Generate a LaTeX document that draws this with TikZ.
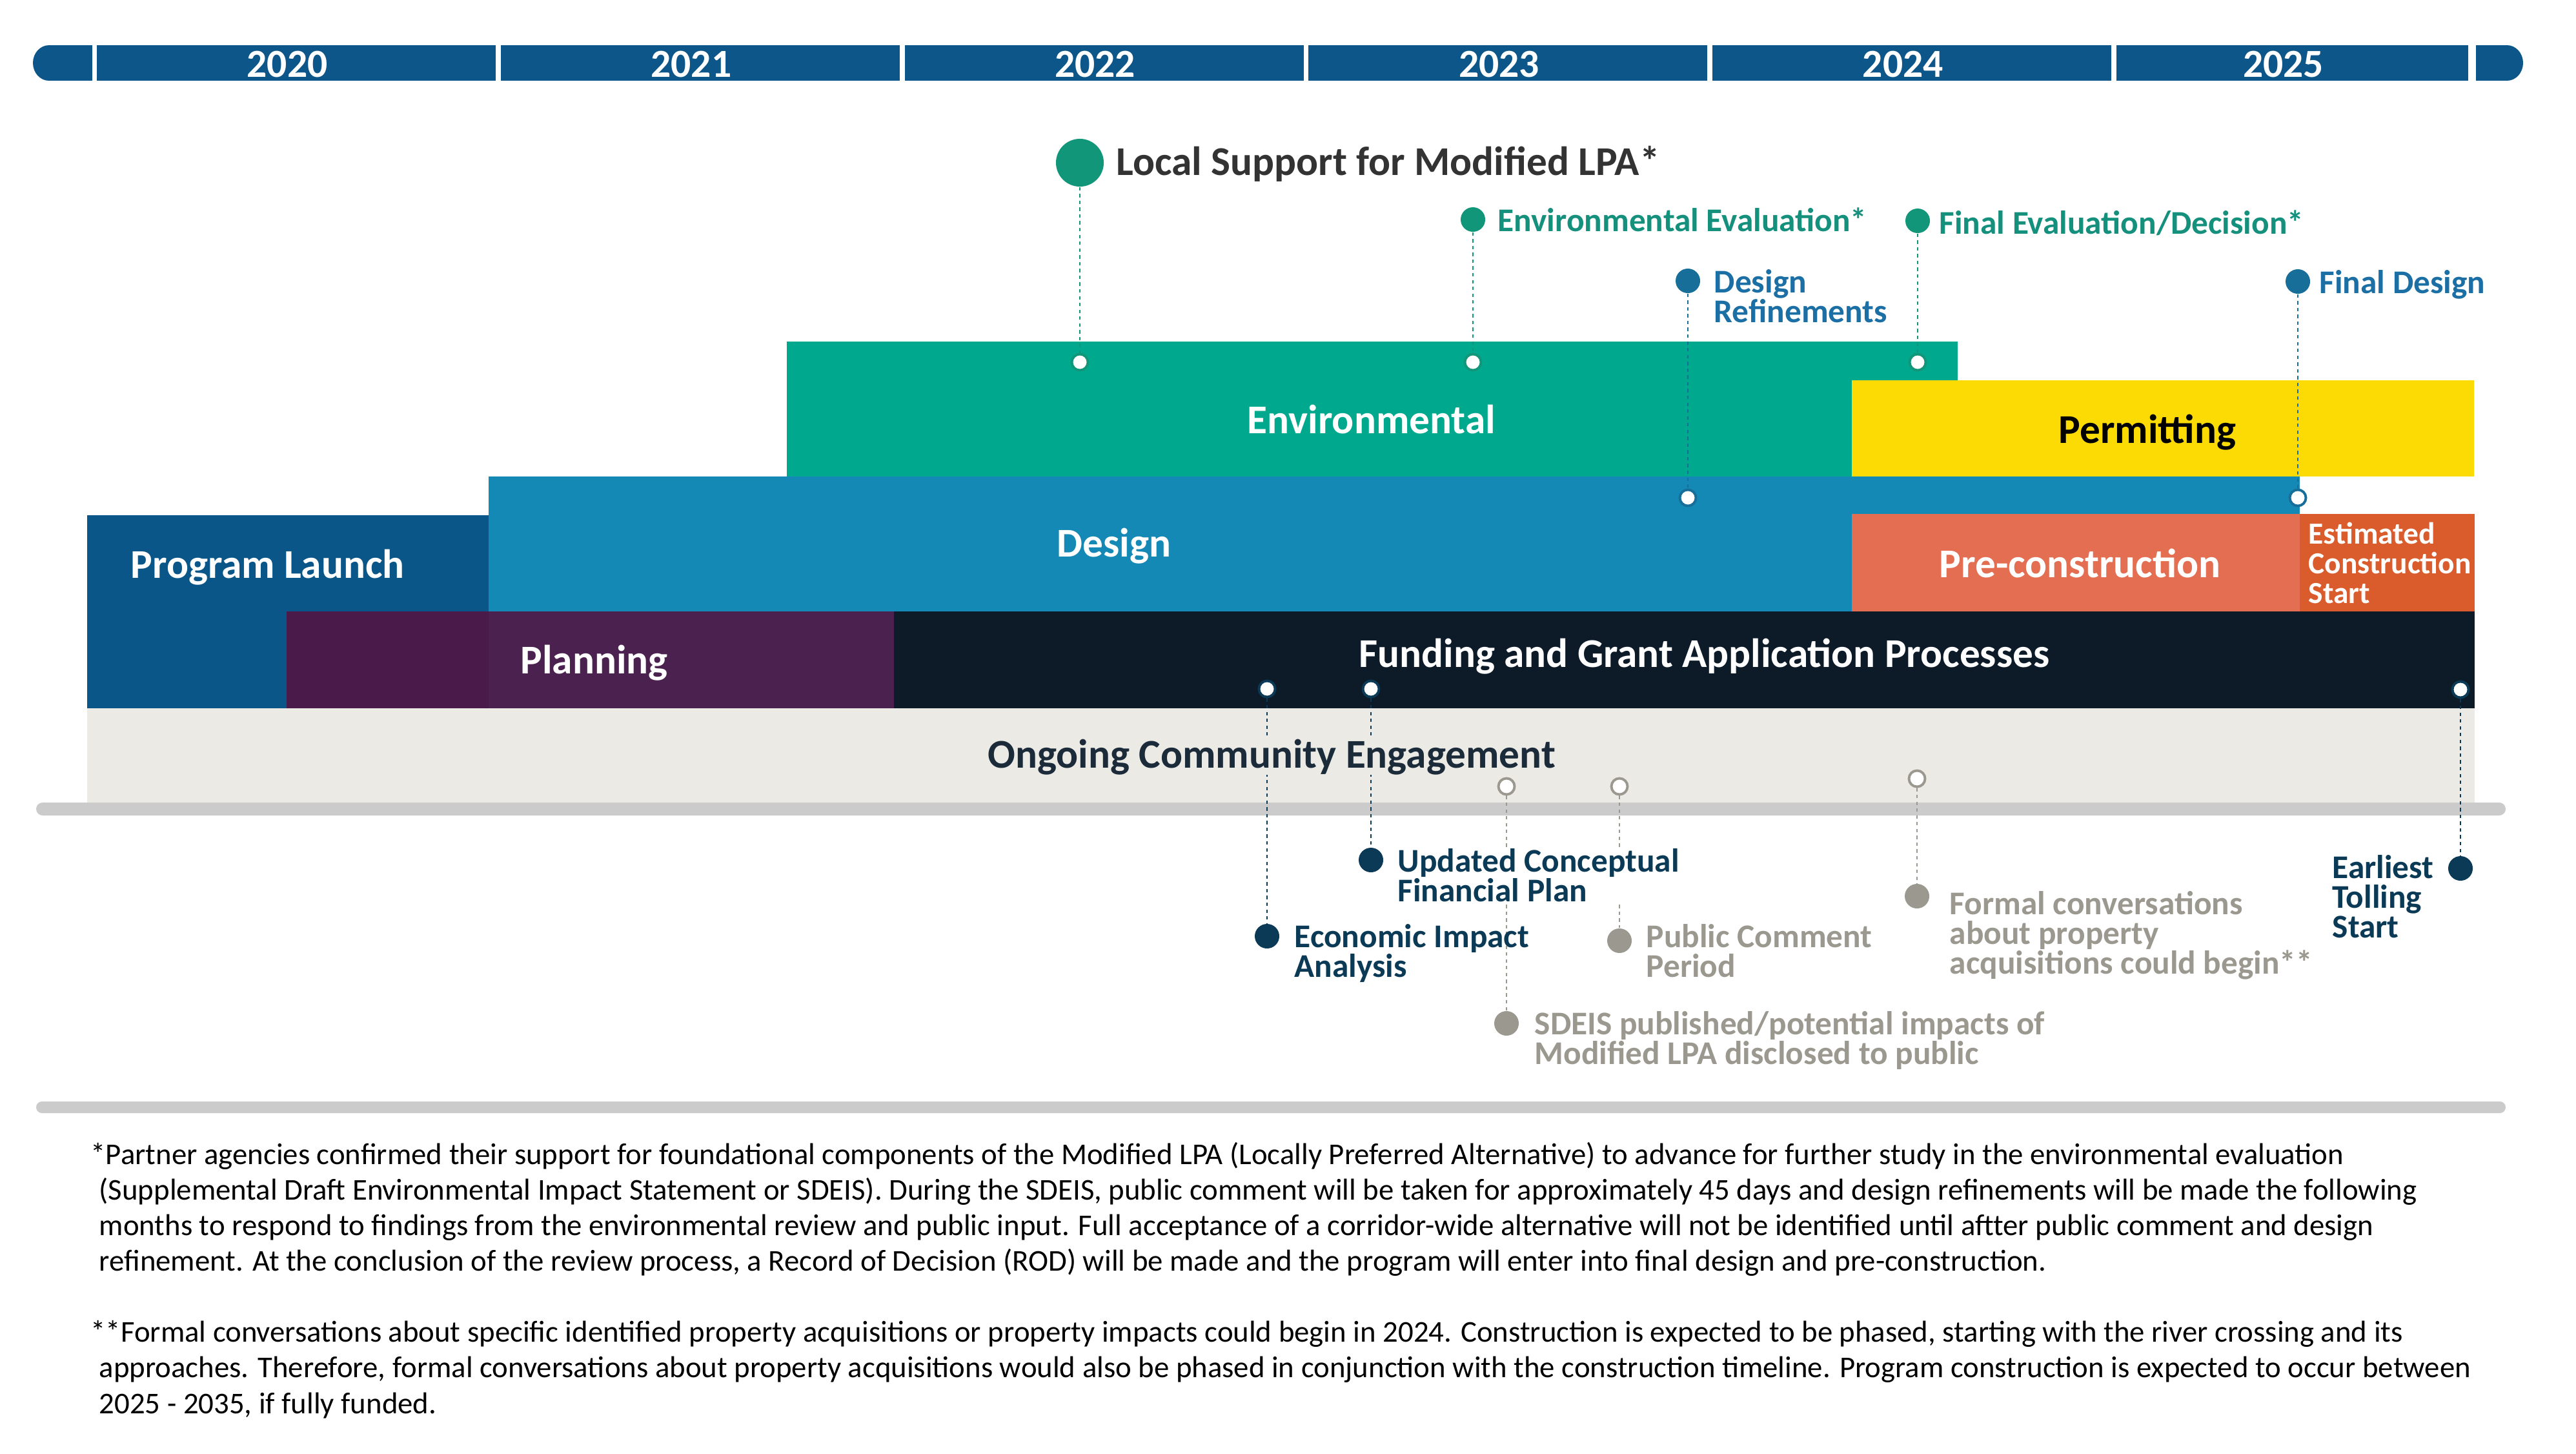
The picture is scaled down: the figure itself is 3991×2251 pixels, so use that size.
\documentclass[tikz,border=0pt]{standalone}
\usepackage{fontspec}
\setmainfont{Carlito}
\usetikzlibrary{positioning}
\definecolor{yearblue}{HTML}{0C5689}
\definecolor{envgreen}{HTML}{00A98E}
\definecolor{permyellow}{HTML}{FCDB04}
\definecolor{designblue}{HTML}{1589B5}
\definecolor{presalmon}{HTML}{E46E51}
\definecolor{estorange}{HTML}{DA5B2C}
\definecolor{launchblue}{HTML}{0B5689}
\definecolor{planA}{HTML}{491A4A}
\definecolor{planB}{HTML}{4B2150}
\definecolor{fundnavy}{HTML}{0D1B29}
\definecolor{engage}{HTML}{EBEAE5}
\definecolor{railgray}{HTML}{CBCBCB}
\definecolor{mteal}{HTML}{12967A}
\definecolor{tealtext}{HTML}{15907D}
\definecolor{mblue}{HTML}{176E98}
\definecolor{bluetext}{HTML}{1B6FA4}
\definecolor{mnavy}{HTML}{0B3A56}
\definecolor{mgray}{HTML}{9B998F}
\definecolor{darktext}{HTML}{333333}
\definecolor{engtext}{HTML}{1C2B3A}

\begin{document}
\begin{tikzpicture}[x=0.01cm,y=-0.01cm,
  yearlabel/.style={anchor=base,inner sep=0pt,text=white,font=\fontsize{17.5}{18}\selectfont\bfseries},
  boxlabel/.style={anchor=base west,inner sep=0pt,text=white,font=\fontsize{18}{18}\selectfont\bfseries},
  milelabel/.style={anchor=base west,inner sep=0pt,align=left,text=#1,font=\fontsize{14.6}{13}\selectfont\bfseries},
  dot/.style={circle,fill=#1,inner sep=0pt,minimum size=0.38cm},
  ring/.style={circle,draw=#1,line width=1.1pt,fill=white,inner sep=0pt,minimum size=0.25cm},
  link/.style={draw=#1,line width=0.8pt,dash pattern=on 1.5pt off 1.5pt}]
\useasboundingbox (0,0) rectangle (3991,2251);

% year bar
\fill[yearblue] (76,97.5) ellipse [x radius=25,y radius=27.5];
\fill[yearblue] (76,70) rectangle (143,125);
\fill[yearblue] (3836,70) rectangle (3884,125);
\fill[yearblue] (3884,97.5) ellipse [x radius=25,y radius=27.5];
\foreach \yr in {2020,...,2025}{
  \pgfmathsetmacro\xa{150+625.8*(\yr-2020)}
  \pgfmathsetmacro\xb{min(\xa+618,3824)}
  \fill[yearblue] (\xa,70) rectangle (\xb,125);
  \node[yearlabel] (y\yr) at ({(\xa+\xb)/2-14},119) {\yr};
}

% phases
\fill[envgreen] (1219,529) rectangle (3033,738);
\fill[permyellow] (2869,589) rectangle (3833,738);
\fill[designblue] (757,738) rectangle (3563,947);
\fill[presalmon] (2869,796) rectangle (3563,947);
\fill[estorange] (3563,796) rectangle (3834,947);
\fill[launchblue] (135,798) rectangle (757,1097);
\fill[planA] (444,947) rectangle (757,1097);
\fill[planB] (757,947) rectangle (1385,1097);
\fill[fundnavy] (1385,947) rectangle (3834,1097);
\fill[engage] (135,1097) rectangle (3834,1243);
\fill[railgray,rounded corners=0.1cm] (56,1243) rectangle (3882,1263);
\fill[railgray,rounded corners=0.09cm] (56,1706) rectangle (3882,1724);

% milestones above
\node[dot=mteal,minimum size=0.74cm] (lpa) at (1673,252) {};
\node[ring=mteal] (lpar) at (1673,561) {};
\node[dot=mteal] (enveval) at (2282,340) {};
\node[ring=mteal] (envevalr) at (2282,561) {};
\node[dot=mteal] (fineval) at (2971,342) {};
\node[ring=mteal] (finevalr) at (2971,561) {};
\node[dot=mblue] (refine) at (2615,435) {};
\node[ring=mblue] (refiner) at (2615,771) {};
\node[dot=mblue] (findes) at (3560,436) {};
\node[ring=mblue] (findesr) at (3560,771) {};

% milestones below
\node[ring=mnavy] (econr) at (1963,1067) {};
\node[dot=mnavy] (econ) at (1963,1450) {};
\node[ring=mnavy] (updr) at (2124,1067) {};
\node[dot=mnavy] (upd) at (2124,1332) {};
\node[ring=mgray] (sdeisr) at (2334,1218) {};
\node[dot=mgray] (sdeis) at (2334,1585) {};
\node[ring=mgray] (pubr) at (2509,1218) {};
\node[dot=mgray] (pub) at (2509,1457) {};
\node[ring=mgray] (formr) at (2970,1206) {};
\node[dot=mgray] (form) at (2970,1388) {};
\node[ring=mnavy] (tollr) at (3812,1068) {};
\node[dot=mnavy] (toll) at (3812,1345) {};

\draw[link=mteal] (lpa) -- (lpar);
\draw[link=mteal] (enveval) -- (envevalr);
\draw[link=mteal] (fineval) -- (finevalr);
\draw[link=mblue] (refine) -- (refiner);
\draw[link=mblue] (findes) -- (findesr);
\draw[link=mnavy] (econr) -- (econ);
\draw[link=mnavy] (updr) -- (upd);
\draw[link=mgray] (sdeisr) -- (sdeis);
\draw[link=mgray] (pubr) -- (pub);
\draw[link=mgray] (formr) -- (form);
\draw[link=mnavy] (tollr) -- (toll);

% phase labels
\node[boxlabel] (envl) at (1932,671) {Environmental};
\node[boxlabel,text=black] (perml) at (3189,686) {Permitting};
\node[boxlabel] (desl) at (1637,862) {Design};
\node[boxlabel] (launchl) at (202,895) {Program Launch};
\node[boxlabel] (prel) at (3004,894) {Pre-construction};
\node[boxlabel,align=left,font=\fontsize{13.5}{13}\selectfont\bfseries] (estl) at (3576,934) {Estimated\\Construction\\Start};
\node[boxlabel] (planl) at (806,1043) {Planning};
\node[boxlabel] (fundl) at (2105,1033) {Funding and Grant Application Processes};
\node[boxlabel,text=engtext,fill=engage] (engl) at (1530,1189) {Ongoing Community Engagement};

% milestone labels
\node[anchor=base west,inner sep=0pt,text=darktext,font=\fontsize{18}{18}\selectfont\bfseries] (lpal) at (1729,271) {Local Support for Modified LPA*};
\node[milelabel=tealtext] (envevall) at (2320,358) {Environmental Evaluation*};
\node[milelabel=tealtext] (finevall) at (3004,362) {Final Evaluation/Decision*};
\node[milelabel=bluetext] (refinel) at (2655,499) {Design\\Refinements};
\node[milelabel=bluetext] (findesl) at (3593,454) {Final Design};
\node[milelabel=mnavy] (econl) at (2005,1513) {Economic Impact\\Analysis};
\node[milelabel=mnavy,fill=white] (updl) at (2165,1396) {Updated Conceptual\\Financial Plan};
\node[milelabel=mgray] (sdeisl) at (2377,1648) {SDEIS published/potential impacts of\\Modified LPA disclosed to public};
\node[milelabel=mgray] (publ) at (2550,1513) {Public Comment\\Period};
\node[milelabel=mgray] (forml) at (3020,1508) {Formal conversations\\about property\\acquisitions could begin**};
\node[milelabel=mnavy] (tolll) at (3613,1452) {Earliest\\Tolling\\Start};

% notes
\node[anchor=base west,inner sep=0pt,align=left,text=black,font=\fontsize{13.3}{15.65}\selectfont] (notes) at (153,2189)
{\kern-0.13cm*Partner agencies confirmed their support for foundational components of the Modified LPA (Locally Preferred Alternative) to advance for further study in the environmental evaluation\\
(Supplemental Draft Environmental Impact Statement or SDEIS). During the SDEIS, public comment will be taken for approximately 45 days and design refinements will be made the following\\
months to respond to findings from the environmental review and public input. Full acceptance of a corridor-wide alternative will not be identified until aftter public comment and design\\
refinement. At the conclusion of the review process, a Record of Decision (ROD) will be made and the program will enter into final design and pre-construction.\\[15.65pt]
\kern-0.13cm**Formal conversations about specific identified property acquisitions or property impacts could begin in 2024. Construction is expected to be phased, starting with the river crossing and its\\
approaches. Therefore, formal conversations about property acquisitions would also be phased in conjunction with the construction timeline. Program construction is expected to occur between\\
2025 - 2035, if fully funded.};
\end{tikzpicture}
\end{document}
